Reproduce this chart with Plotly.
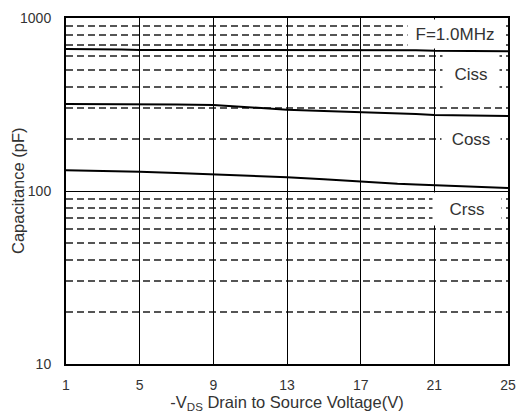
import plotly.graph_objects as go

vds = [1, 3, 4, 5, 7, 9, 11, 13, 15, 17, 19, 20, 21, 23, 25]
ciss = [663, 662, 657, 654, 654, 654, 654, 653, 653, 653, 653, 652, 646, 643, 642]
coss = [318, 318, 317, 316, 316, 314, 305, 295, 290, 286, 281, 279, 275, 273, 271]
crss = [132, 131, 130, 129, 127, 125, 122, 120, 117, 113, 110, 109, 108, 106, 104]

x_ticks = [1, 5, 9, 13, 17, 21, 25]
y_ticks = [10, 100, 1000]
y_ticktext = ["10", "100", "1000"]
y_minor = [20, 30, 40, 50, 60, 70, 80, 90, 200, 300, 400, 500, 600, 700, 800, 900]

# label text, x (data), log10(y), box width, box height
labels = [
    ("F=1.0MHz", 22.12, 2.907, 94, 28),
    ("Ciss", 23.0, 2.676, 56, 40),
    ("Coss", 23.0, 2.30, 58, 30),
    ("Crss", 22.8, 1.896, 68, 32),
]

FONT = "Liberation Sans, Arial, sans-serif"

fig = go.Figure()
for name, ys in [("Ciss", ciss), ("Coss", coss), ("Crss", crss)]:
    fig.add_trace(go.Scatter(x=vds, y=ys, mode="lines", name=name,
                             line=dict(color="black", width=2), showlegend=False))

for txt, xv, yv, w, h in labels:
    fig.add_annotation(x=xv, y=yv, xref="x", yref="y",
                       text=txt, showarrow=False, bgcolor="white",
                       width=w, height=h, borderpad=0,
                       font=dict(family=FONT, size=17, color="#333"))

# y-axis title placed as a rotated annotation
fig.add_annotation(x=0, y=0.5, xref="paper", yref="paper", xshift=-48,
                   xanchor="center", yanchor="middle",
                   text="Capacitance (pF)", textangle=-90, showarrow=False,
                   font=dict(family=FONT, size=16.5, color="#333"))

fig.update_layout(
    width=519, height=415,
    margin=dict(l=66, r=11, t=18, b=51),
    plot_bgcolor="white", paper_bgcolor="white",
    font=dict(family=FONT, size=14, color="#333"),
)
fig.update_xaxes(
    range=[1, 25], tickvals=x_ticks, showgrid=True, gridcolor="black", gridwidth=1,
    showline=True, linecolor="black", linewidth=2, mirror=True, ticks="",
    zeroline=False, ticklabelstandoff=7, automargin=False,
    title=dict(text="-V<sub>DS</sub> Drain to Source Voltage(V)", standoff=4,
               font=dict(size=16.5, color="#333")),
)
fig.update_yaxes(
    type="log", range=[1, 3], tickvals=y_ticks, ticktext=y_ticktext,
    showgrid=True, gridcolor="black", gridwidth=1,
    showline=True, linecolor="black", linewidth=2, mirror=True, ticks="",
    ticklabelstandoff=10, automargin=False,
    minor=dict(showgrid=True, gridcolor="#555", griddash="7px,4px", gridwidth=1.5,
               tickvals=y_minor),
)
fig.write_html("out.html")
